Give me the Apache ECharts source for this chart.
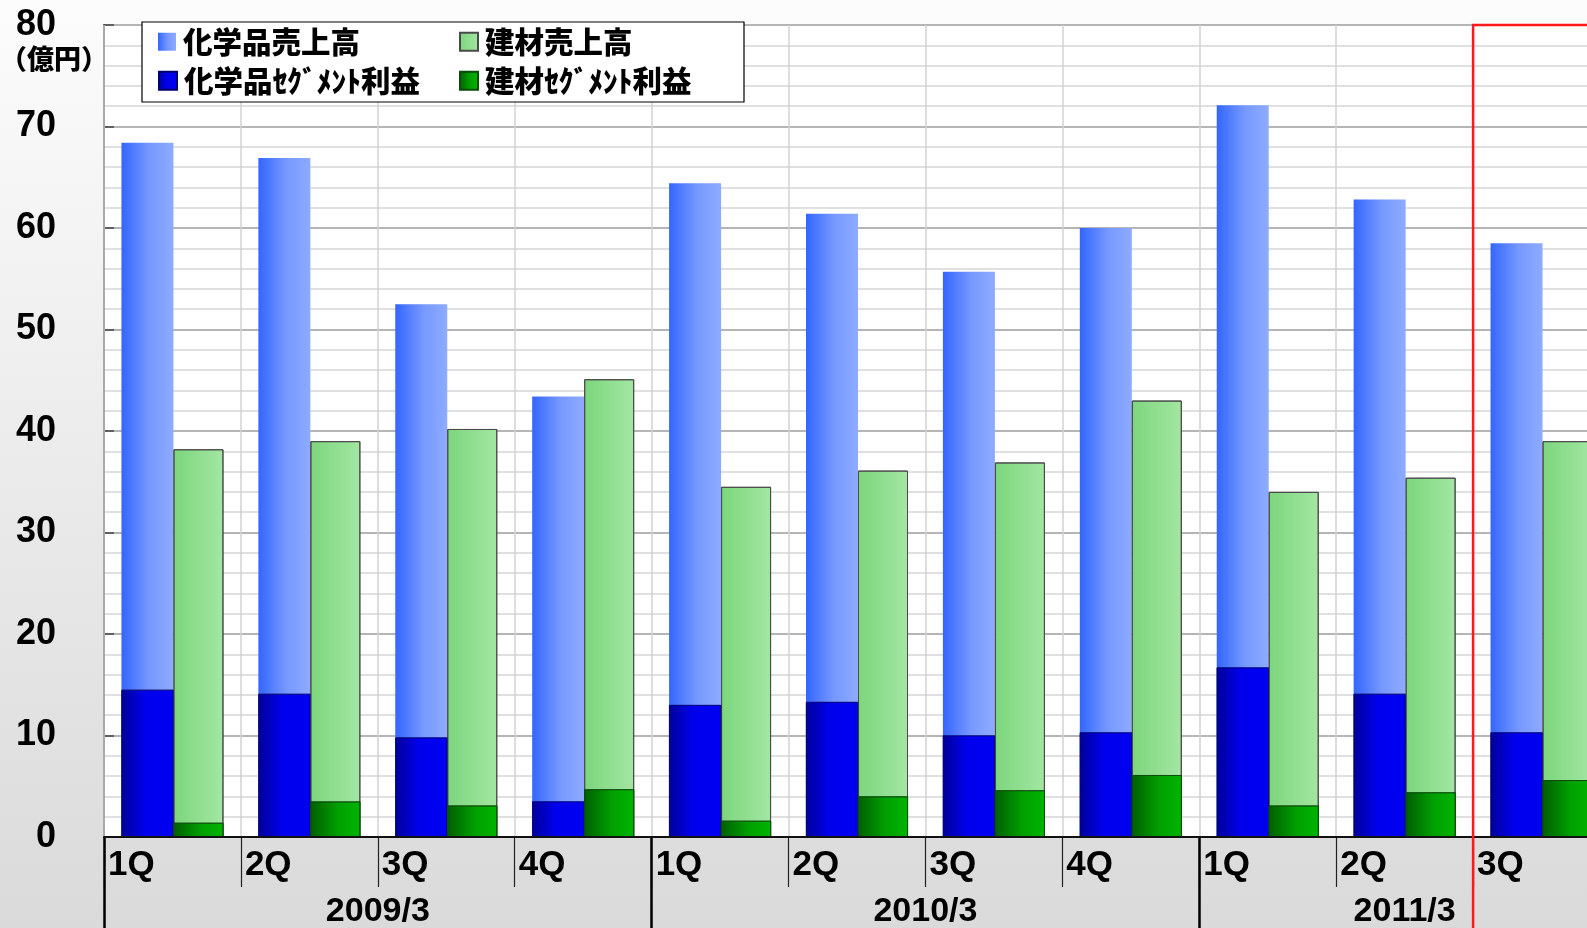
<!DOCTYPE html>
<html><head><meta charset="utf-8">
<script src="https://cdn.jsdelivr.net/npm/echarts@6/dist/echarts.min.js"></script>
<style>html,body{margin:0;padding:0;background:#fff}#c{width:1587px;height:928px}</style>
</head><body><div id="c"></div>
<script>
// ---- data ----
const quarters = ['1Q','2Q','3Q','4Q','1Q','2Q','3Q','4Q','1Q','2Q','3Q'];
const fiscalYears = ['2009/3','2010/3','2011/3'];
const quartersPerYear = [4, 4, 3];
const chemSales   = [68.4, 66.9, 52.5, 43.4, 64.4, 61.4, 55.7, 60.0, 72.1, 62.8, 58.5];
const chemProfit  = [14.5, 14.1,  9.8,  3.5, 13.0, 13.3, 10.0, 10.3, 16.7, 14.1, 10.3];
const buildSales  = [38.2, 39.0, 40.2, 45.1, 34.5, 36.1, 36.9, 43.0, 34.0, 35.4, 39.0];
const buildProfit = [ 1.4,  3.5,  3.1,  4.7,  1.6,  4.0,  4.6,  6.1,  3.1,  4.4,  5.6];
const yMin = 0, yMax = 80, yInterval = 10;
const highlightIndex = 10; // highlighted quarter (2011/3 3Q)
const seriesNames = ['化学品売上高','建材売上高','化学品ｾｸﾞﾒﾝﾄ利益','建材ｾｸﾞﾒﾝﾄ利益'];
const unitLabel = '（億円）';

// ---- derived positions (from data) ----
const yearStarts = []; const yearCenters = [];
let acc = 0;
quartersPerYear.forEach(n => { yearStarts.push(acc); yearCenters.push(acc + n / 2); acc += n; });

const NUM_FONT = "'Liberation Sans','Arial',sans-serif";
const JP_FONT = "'Noto Sans CJK JP',sans-serif";

function hGrad(stops) {
  return new echarts.graphic.LinearGradient(0, 0, 1, 0, stops.map(c => ({offset: c[0], color: c[1]})));
}
const cLightBlue = hGrad([[0,'#3366ff'],[0.55,'#7799ff'],[1,'#8eabff']]);
const cDarkBlue  = hGrad([[0,'#00009a'],[0.45,'#0000ec'],[1,'#0000f2']]);
const cLightGreen= hGrad([[0,'#7cd67c'],[1,'#a3e6a3']]);
const cDarkGreen = hGrad([[0,'#005e00'],[0.55,'#00a000'],[1,'#00b400']]);

const chart = echarts.init(document.getElementById('c'), null, {renderer: 'canvas'});

const catAxisBase = {
  type: 'category', data: quarters, gridIndex: 0, position: 'bottom', boundaryGap: true
};

const option = {
  animation: false,
  backgroundColor: new echarts.graphic.LinearGradient(0, 0, 0, 1, [
    {offset: 0, color: '#fcfcfc'}, {offset: 1, color: '#dadada'}]),
  grid: {left: 104, top: 25, width: 1506, height: 812, show: true,
         backgroundColor: '#ffffff', borderWidth: 0, containLabel: false, outerBoundsMode: 'none'},
  legend: [
    {data: [seriesNames[0]], left: 158, top: 27},
    {data: [seriesNames[1]], left: 459, top: 27},
    {data: [seriesNames[2]], left: 158, top: 66},
    {data: [seriesNames[3]], left: 459, top: 66}
  ].map(l => Object.assign(l, {
    orient: 'horizontal', padding: 0, itemWidth: 18, itemHeight: 18, icon: 'rect', z: 12,
    selectedMode: false,
    textStyle: {fontFamily: JP_FONT, fontWeight: 900, fontSize: 29.5, color: '#000', padding: [0,0,0,2]}
  })),
  xAxis: [
    Object.assign({}, catAxisBase, {
      axisLine: {show: true, lineStyle: {color: '#111', width: 2}},
      axisTick: {show: false}, axisLabel: {show: false},
      splitLine: {show: true, lineStyle: {color: '#d2d2d2', width: 1.5}},
      z: 3
    }),
    Object.assign({}, catAxisBase, {show: false}),
    {
      type: 'value', gridIndex: 0, position: 'bottom', min: 0, max: quarters.length, interval: 1,
      axisLine: {show: false}, splitLine: {show: false},
      axisTick: {show: true, length: 50, lineStyle: {color: '#222', width: 1.2}},
      axisLabel: {show: true, align: 'left', margin: 11, padding: [0,0,0,4],
        fontFamily: NUM_FONT, fontWeight: 'bold', fontSize: 35, color: '#000',
        showMaxLabel: false,
        formatter: v => (quarters[Math.round(v)] || '')}
    },
    {
      type: 'value', gridIndex: 0, position: 'bottom', min: 0, max: quarters.length,
      axisLine: {show: false}, splitLine: {show: false},
      axisTick: {show: true, length: 96, customValues: yearStarts, lineStyle: {color: '#000', width: 2.5}},
      axisLabel: {show: true, margin: 58, customValues: yearCenters,
        fontFamily: NUM_FONT, fontWeight: 'bold', fontSize: 34, color: '#000',
        formatter: v => { const i = yearCenters.indexOf(v); return i >= 0 ? fiscalYears[i] : ''; }}
    }
  ],
  yAxis: {
    type: 'value', min: yMin, max: yMax, interval: yInterval,
    axisLine: {show: true, lineStyle: {color: '#333', width: 2}},
    axisTick: {show: true, inside: true, length: 10, lineStyle: {color: '#444', width: 1.5}},
    axisLabel: {margin: 48, fontFamily: NUM_FONT, fontWeight: 'bold', fontSize: 36, color: '#000'},
    splitLine: {show: true, lineStyle: {color: '#9c9c9c', width: 1.5}},
    minorTick: {show: false, splitNumber: 5},
    minorSplitLine: {show: true, lineStyle: {color: '#d6d6d6', width: 1.5}}
  },
  series: [
    {name: seriesNames[0], type: 'bar', xAxisIndex: 0, data: chemSales, barWidth: 52, barGap: 0,
     itemStyle: {color: cLightBlue}},
    {name: seriesNames[1], type: 'bar', xAxisIndex: 0, data: buildSales, barWidth: 50, barGap: 0,
     itemStyle: {color: cLightGreen, borderColor: '#4a4a4a', borderWidth: 1}},
    {name: seriesNames[2], type: 'bar', xAxisIndex: 1, data: chemProfit, barWidth: 52, barGap: 0,
     itemStyle: {color: cDarkBlue, borderColor: '#00006a', borderWidth: 0.6}},
    {name: seriesNames[3], type: 'bar', xAxisIndex: 1, data: buildProfit, barWidth: 50, barGap: 0,
     itemStyle: {color: cDarkGreen, borderColor: '#0a4a0a', borderWidth: 0.8}}
  ],
  graphic: [
    {type: 'rect', z: 10, shape: {x: 142, y: 22, width: 602, height: 80},
     style: {fill: '#ffffff', stroke: '#000', lineWidth: 1.2}},
    {type: 'text', z: 10, left: 0, top: 45,
     style: {text: unitLabel, font: "900 27px 'Noto Sans CJK JP'", fill: '#000'}}
  ]
};
chart.setOption(option);

// red highlight frame drawn through the axis scales
const xr = chart.convertToPixel({xAxisIndex: 2}, highlightIndex);
const yTop = chart.convertToPixel({yAxisIndex: 0}, yMax);
chart.setOption({graphic: option.graphic.concat([
  {type: 'polyline', z: 20, shape: {points: [[xr, 928], [xr, yTop], [1600, yTop]]},
   style: {stroke: '#ff1a1a', lineWidth: 2.5, fill: null}}
])});
</script></body></html>
